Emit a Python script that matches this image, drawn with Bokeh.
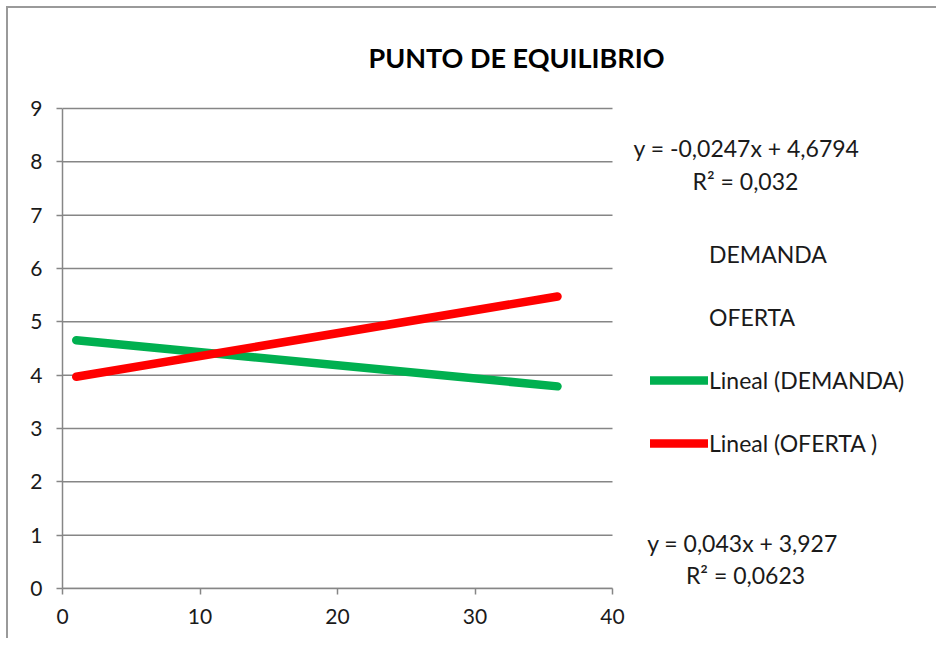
from bokeh.plotting import figure
from bokeh.models import Legend, LegendItem, Label, FixedTicker, Range1d
from bokeh.embed import file_html
from bokeh.resources import INLINE

# Trendlines (Excel linear trendlines over x = 1..36)
trend_x = [1, 36]
demanda_slope, demanda_intercept = -0.0247, 4.6794
oferta_slope, oferta_intercept = 0.043, 3.927
demanda_y = [demanda_intercept + demanda_slope * x for x in trend_x]
oferta_y = [oferta_intercept + oferta_slope * x for x in trend_x]

title_text = "PUNTO DE EQUILIBRIO"
legend_labels = ["DEMANDA", "OFERTA", "Lineal (DEMANDA)", "Lineal (OFERTA )"]
eq_demanda = ["y = -0,0247x + 4,6794", "R² = 0,032"]
eq_oferta = ["y = 0,043x + 3,927", "R² = 0,0623"]
y_ticks = [0, 1, 2, 3, 4, 5, 6, 7, 8, 9]
x_ticks = [0, 10, 20, 30, 40]
x_axis_max = 40
y_axis_max = 9

FONT = "Lato"
GRAY = "#868686"
TXT = "#1a1a1a"

# pixel geometry: plot area 550x480 px for 0..40 x 0..9
PX_X = 550 / x_axis_max
PX_Y = 480 / y_axis_max
FRAME_W, FRAME_H = 874, 580

p = figure(frame_width=FRAME_W, frame_height=FRAME_H,
           min_border_left=54, min_border_right=0, min_border_top=0, min_border_bottom=50,
           x_range=Range1d(0, FRAME_W / PX_X), y_range=Range1d(0, FRAME_H / PX_Y),
           output_backend="svg", toolbar_location=None, title=None)
p.styles = {"margin-top": "6px", "margin-left": "6px",
            "border-top": "2px solid #9a9a9a", "border-left": "2px solid #9a9a9a"}
p.outline_line_color = None
p.xgrid.grid_line_color = None
p.ygrid.grid_line_color = None

for ax in (p.xaxis[0], p.yaxis[0]):
    ax.axis_line_color = GRAY
    ax.axis_line_width = 1.5
    ax.major_tick_line_color = GRAY
    ax.major_tick_line_width = 1.5
    ax.major_tick_in = 0
    ax.major_tick_out = 6
    ax.minor_tick_line_color = None
    ax.major_label_text_font = FONT
    ax.major_label_text_font_size = "21px"
    ax.major_label_text_color = TXT
p.yaxis[0].ticker = FixedTicker(ticks=y_ticks)
p.xaxis[0].ticker = FixedTicker(ticks=x_ticks)
p.yaxis[0].bounds = (0, y_axis_max)
p.xaxis[0].bounds = (0, x_axis_max)
p.yaxis[0].major_label_standoff = 14
p.xaxis[0].major_label_standoff = 14

# horizontal gridlines limited to the plot area
p.segment(x0=[0] * len(y_ticks), x1=[x_axis_max] * len(y_ticks), y0=y_ticks, y1=y_ticks,
          line_color=GRAY, line_width=1.5, level="underlay")

r_dem = p.line([], [], line_alpha=0)
r_ofe = p.line([], [], line_alpha=0)
r_tdem = p.line(trend_x, demanda_y, line_color="#00b050", line_width=8.5, line_cap="round")
r_tofe = p.line(trend_x, oferta_y, line_color="#ff0000", line_width=8.5, line_cap="round")

legend = Legend(items=[
    LegendItem(label=legend_labels[0], renderers=[r_dem]),
    LegendItem(label=legend_labels[1], renderers=[r_ofe]),
    LegendItem(label=legend_labels[2], renderers=[r_tdem]),
    LegendItem(label=legend_labels[3], renderers=[r_tofe]),
], location=(588, 131), orientation="vertical",
    glyph_width=58, glyph_height=20, label_height=20, label_standoff=1, spacing=35,
    padding=0, margin=0, border_line_alpha=0, background_fill_alpha=0,
    label_text_font=FONT, label_text_font_size="23px", label_text_color=TXT)
p.add_layout(legend, "center")

def dx(px):
    return (px - 62) / PX_X

def dy(py):
    return (588 - py) / PX_Y

def add_label(text, px, py, size="23px", bold=False):
    p.add_layout(Label(x=dx(px), y=dy(py), text=text, text_align="center",
                       text_baseline="middle", text_font=FONT, text_font_size=size,
                       text_font_style="bold" if bold else "normal",
                       text_color="black" if bold else TXT))

add_label(title_text, 516, 57, size="27px", bold=True)
add_label(eq_demanda[0], 746, 147)
add_label(eq_demanda[1], 745, 180)
add_label(eq_oferta[0], 742, 542)
add_label(eq_oferta[1], 745, 574)

open("out.html", "w").write(file_html(p, INLINE))
